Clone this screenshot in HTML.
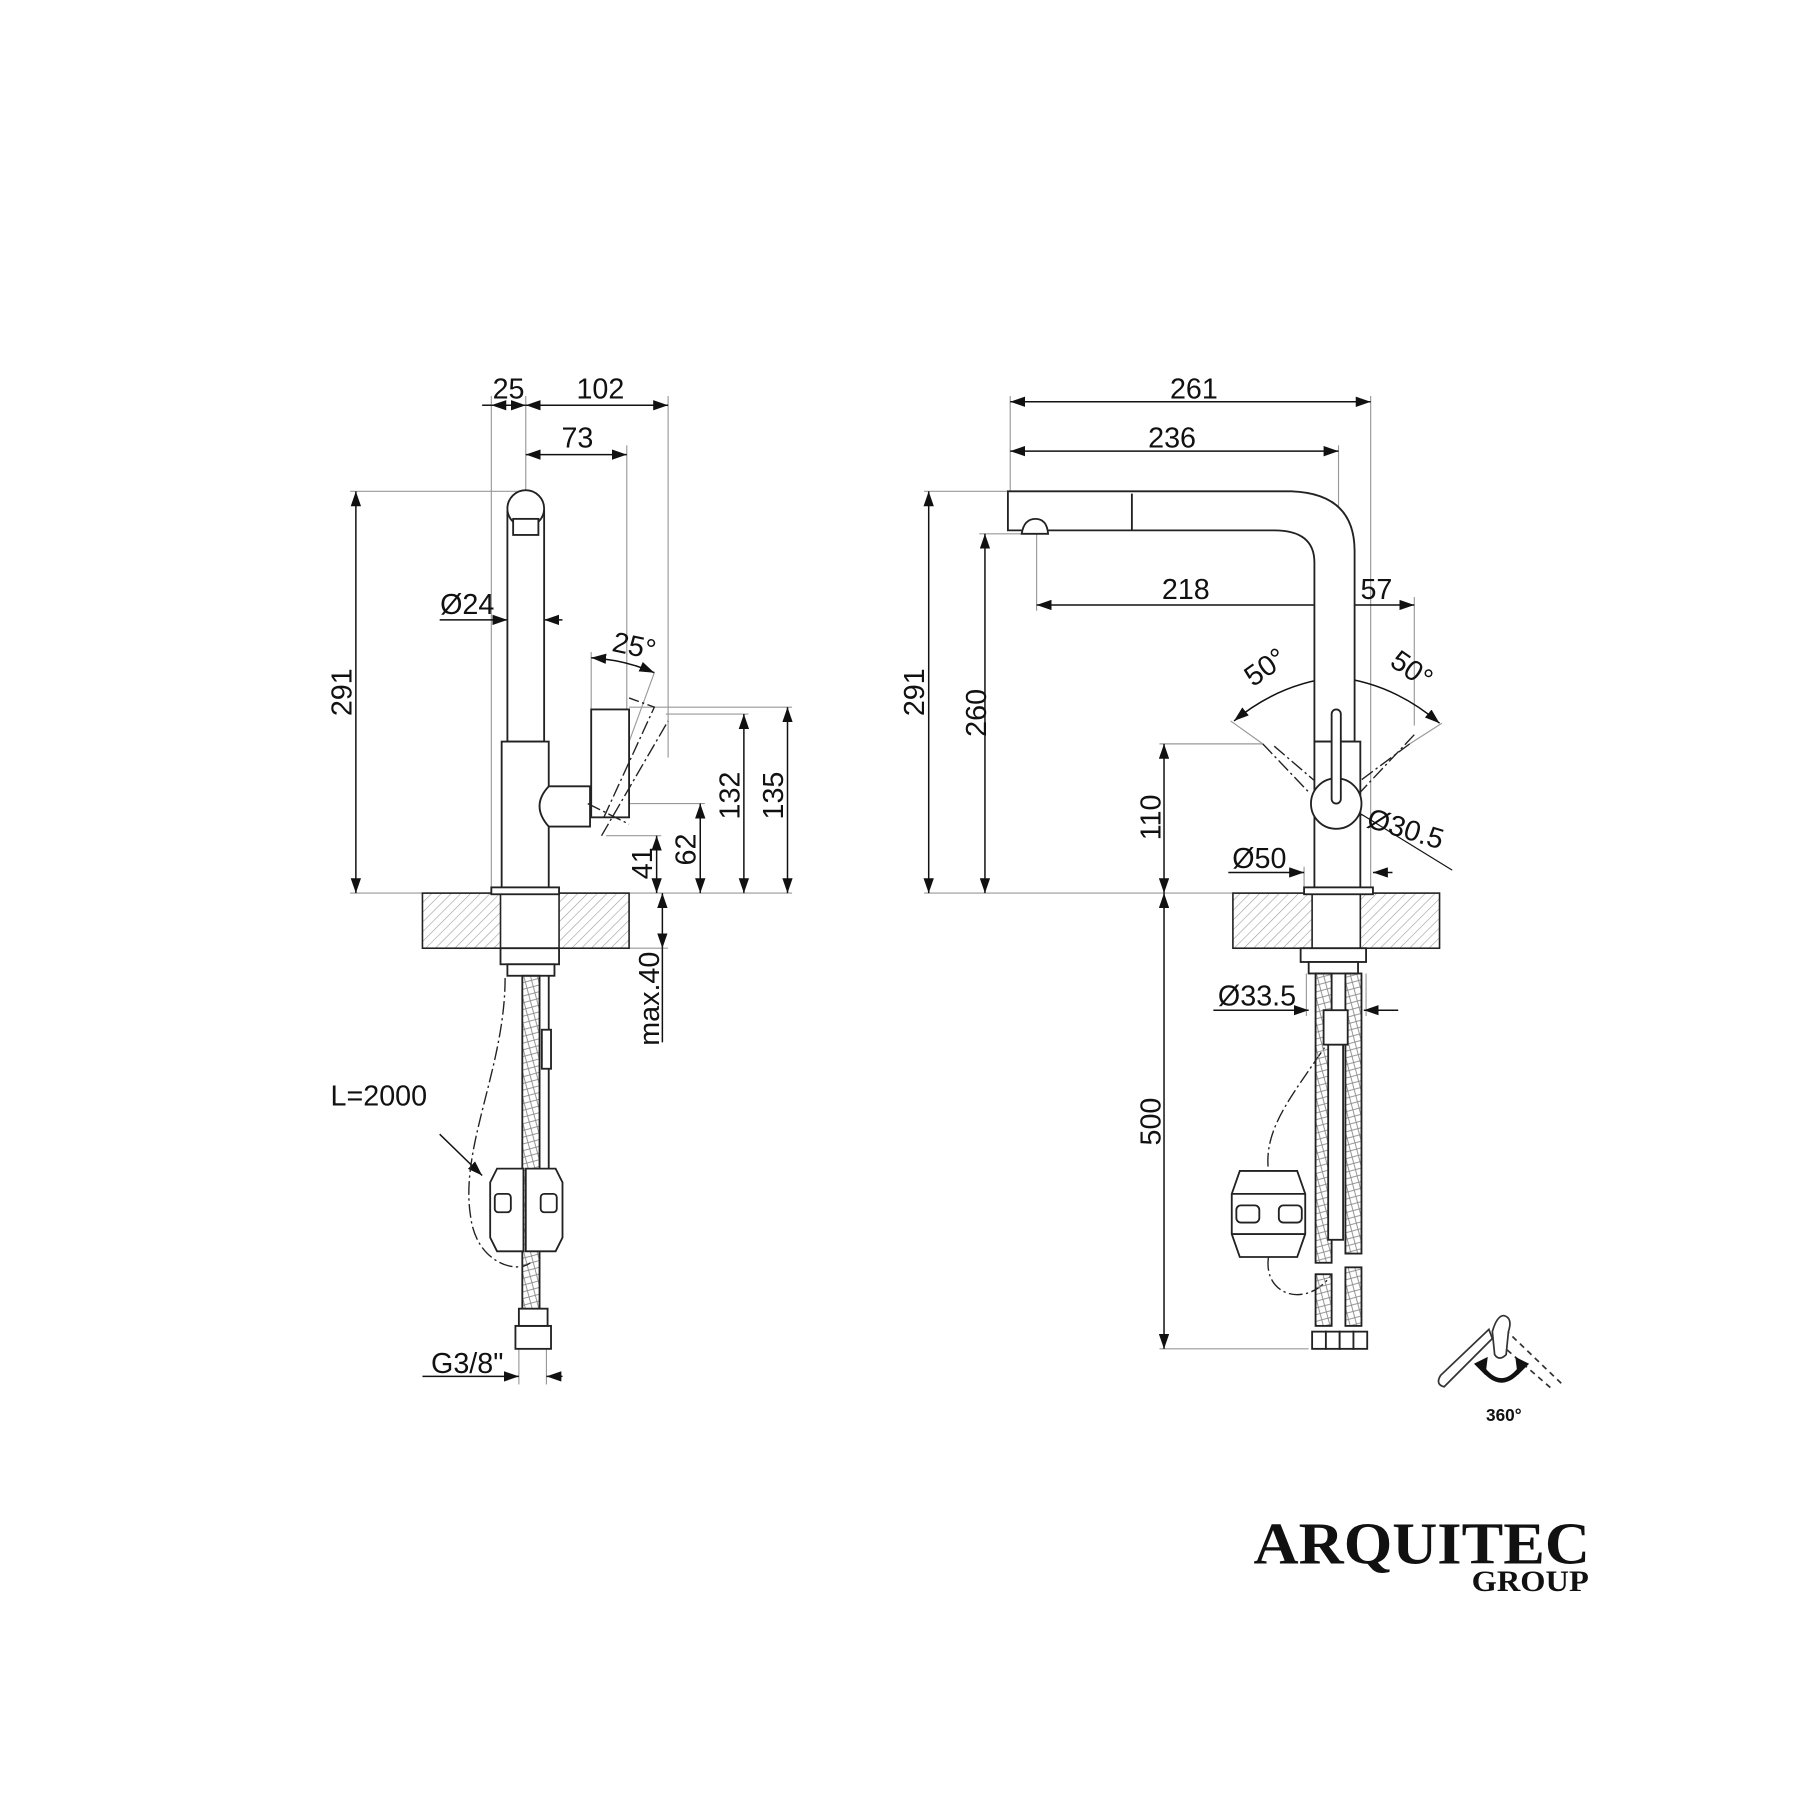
<!DOCTYPE html>
<html><head><meta charset="utf-8"><style>
html,body{margin:0;padding:0;background:#fff;}
svg{display:block;}
text{font-family:"Liberation Sans",sans-serif;fill:#111;}
</style></head><body>
<svg width="1800" height="1800" viewBox="0 0 1568 1568" xmlns="http://www.w3.org/2000/svg">
<defs>
<marker id="a" viewBox="0 0 13 9" refX="13" refY="4.5" markerWidth="13" markerHeight="9" markerUnits="userSpaceOnUse" orient="auto-start-reverse"><path d="M0,0L13,4.5L0,9z" fill="#111"/></marker>
<pattern id="h" width="6" height="6" patternUnits="userSpaceOnUse" patternTransform="rotate(45)"><line x1="0" y1="0" x2="0" y2="6" stroke="#999" stroke-width="1"/></pattern>
<pattern id="x" width="8" height="8" patternUnits="userSpaceOnUse" patternTransform="rotate(30)"><path d="M0,0L8,8M8,0L0,8" stroke="#888" stroke-width="0.8"/></pattern>
</defs>
<g fill="none" stroke="#999" stroke-width="1">
<line x1="428" y1="345" x2="428" y2="778"/>
<line x1="458" y1="345" x2="458" y2="428"/>
<line x1="546" y1="388" x2="546" y2="620"/>
<line x1="582" y1="345" x2="582" y2="660"/>
<line x1="305" y1="428" x2="458" y2="428"/>
<line x1="305" y1="778" x2="690" y2="778"/>
<line x1="548" y1="616" x2="690" y2="616"/>
<line x1="580" y1="622" x2="652" y2="622"/>
<line x1="548" y1="700" x2="614" y2="700"/>
<line x1="528" y1="728" x2="576" y2="728"/>
<line x1="548" y1="826" x2="582" y2="826"/>
<line x1="515" y1="568" x2="515" y2="618"/>
<line x1="570" y1="586" x2="532" y2="690"/>
<line x1="452" y1="1175" x2="452" y2="1206"/>
<line x1="476" y1="1175" x2="476" y2="1206"/>
<line x1="880" y1="345" x2="880" y2="428"/>
<line x1="1194" y1="345" x2="1194" y2="778"/>
<line x1="1166" y1="388" x2="1166" y2="620"/>
<line x1="805" y1="428" x2="878" y2="428"/>
<line x1="853" y1="465" x2="895" y2="465"/>
<line x1="903" y1="465" x2="903" y2="532"/>
<line x1="1232" y1="520" x2="1232" y2="632"/>
<line x1="1010" y1="648" x2="1100" y2="648"/>
<line x1="805" y1="778" x2="1212" y2="778"/>
<line x1="1010" y1="1175" x2="1140" y2="1175"/>
<line x1="1072" y1="628" x2="1100" y2="648"/>
<line x1="1256" y1="630" x2="1228" y2="648"/>
<line x1="1138" y1="848" x2="1138" y2="885"/>
<line x1="1190" y1="848" x2="1190" y2="885"/>
<line x1="1136" y1="755" x2="1136" y2="775"/>
</g>
<g stroke="#111" stroke-width="1.3" fill="none">
<line x1="420" y1="353" x2="428" y2="353"/>
<line x1="428" y1="353" x2="458" y2="353" marker-start="url(#a)" marker-end="url(#a)"/>
<line x1="458" y1="353" x2="582" y2="353" marker-start="url(#a)" marker-end="url(#a)"/>
<line x1="458" y1="396" x2="546" y2="396" marker-start="url(#a)" marker-end="url(#a)"/>
<line x1="310" y1="428" x2="310" y2="778" marker-start="url(#a)" marker-end="url(#a)"/>
<line x1="383" y1="540" x2="442" y2="540" marker-end="url(#a)"/>
<line x1="490" y1="540" x2="474" y2="540" marker-end="url(#a)"/>
<path d="M515,573 Q545,575 570,586" marker-start="url(#a)" marker-end="url(#a)"/>
<line x1="686" y1="616" x2="686" y2="778" marker-start="url(#a)" marker-end="url(#a)"/>
<line x1="648" y1="622" x2="648" y2="778" marker-start="url(#a)" marker-end="url(#a)"/>
<line x1="610" y1="700" x2="610" y2="778" marker-start="url(#a)" marker-end="url(#a)"/>
<line x1="572" y1="728" x2="572" y2="778" marker-start="url(#a)" marker-end="url(#a)"/>
<line x1="577" y1="778" x2="577" y2="826" marker-start="url(#a)" marker-end="url(#a)"/>
<line x1="577" y1="826" x2="577" y2="908"/>
<line x1="368" y1="1199" x2="452" y2="1199" marker-end="url(#a)"/>
<line x1="490" y1="1199" x2="476" y2="1199" marker-end="url(#a)"/>
<line x1="383" y1="988" x2="420" y2="1024" marker-end="url(#a)"/>
<line x1="880" y1="350" x2="1194" y2="350" marker-start="url(#a)" marker-end="url(#a)"/>
<line x1="880" y1="393" x2="1166" y2="393" marker-start="url(#a)" marker-end="url(#a)"/>
<line x1="809" y1="428" x2="809" y2="778" marker-start="url(#a)" marker-end="url(#a)"/>
<line x1="858" y1="465" x2="858" y2="778" marker-start="url(#a)" marker-end="url(#a)"/>
<line x1="903" y1="527" x2="1166" y2="527" marker-start="url(#a)" marker-end="url(#a)"/>
<line x1="1166" y1="527" x2="1232" y2="527" marker-start="url(#a)" marker-end="url(#a)"/>
<path d="M1075,628 Q1115,595 1164,590" marker-start="url(#a)" marker-end="url(#a)"/>
<path d="M1164,590 Q1213,595 1254,630" marker-start="url(#a)" marker-end="url(#a)"/>
<line x1="1014" y1="648" x2="1014" y2="778" marker-start="url(#a)" marker-end="url(#a)"/>
<line x1="1014" y1="778" x2="1014" y2="1175" marker-start="url(#a)" marker-end="url(#a)"/>
<line x1="1070" y1="760" x2="1136" y2="760" marker-end="url(#a)"/>
<line x1="1213" y1="760" x2="1196" y2="760" marker-end="url(#a)"/>
<line x1="1057" y1="880" x2="1140" y2="880" marker-end="url(#a)"/>
<line x1="1218" y1="880" x2="1188" y2="880" marker-end="url(#a)"/>
<line x1="1143" y1="692" x2="1187" y2="710" marker-start="url(#a)" marker-end="url(#a)"/>
<line x1="1187" y1="710" x2="1265" y2="758" stroke-width="1"/>
</g>
<g stroke="#222" stroke-width="1.4">
<rect x="368" y="778" width="180" height="48" fill="url(#h)"/>
<rect x="1074" y="778" width="180" height="48" fill="url(#h)"/>
<rect x="436" y="778" width="51" height="48" fill="#fff"/>
<rect x="1143" y="778" width="42" height="48" fill="#fff"/>
</g>
<g stroke="#222" stroke-width="1.6" fill="#fff">
<rect x="442" y="445" width="32" height="201"/>
<circle cx="458" cy="443" r="16"/>
<rect x="447" y="452" width="22" height="14"/>
<rect x="437" y="646" width="41" height="128"/>
<rect x="428" y="773" width="59" height="6"/>
<path d="M478,685 H514 V720 H478 Q462,702 478,685Z"/>
<rect x="515" y="618" width="33" height="94"/>
<rect x="436" y="826" width="51" height="14"/>
<rect x="442" y="840" width="41" height="10"/>
<rect x="455" y="850" width="15" height="320" fill="url(#x)"/>
<line x1="478" y1="850" x2="478" y2="1020"/>
<rect x="472" y="897" width="8" height="34"/>
<path d="M427,1030 L433,1018 H456 V1090 H433 L427,1078Z"/>
<path d="M490,1030 L484,1018 H458 V1090 H484 L490,1078Z"/>
<rect x="431" y="1040" width="14" height="16" rx="3"/>
<rect x="471" y="1040" width="14" height="16" rx="3"/>
<rect x="449" y="1155" width="31" height="20"/>
<rect x="452" y="1140" width="25" height="15"/>
</g>
<g stroke="#222" stroke-width="1.2" fill="none" stroke-dasharray="12,3,2,3">
<path d="M526,712 L570,616 L548,608"/>
<path d="M524,728 L582,628"/>
<path d="M512,700 L548,718"/>
<path d="M440,852 C440,930 400,1000 410,1060 C415,1100 450,1110 462,1100"/>
<path d="M1110,650 L1145,680"/><path d="M1100,648 L1140,690"/>
<path d="M1228,648 L1185,680"/><path d="M1232,640 L1185,690"/>
<path d="M1162,900 C1130,950 1100,980 1105,1020"/>
<path d="M1105,1095 C1100,1130 1140,1140 1160,1110"/>
</g>
<g stroke="#222" stroke-width="1.6" fill="#fff">
<path d="M878,428 H1125 Q1180,430 1180,480 V646 H1145 V490 Q1145,462 1110,462 H900 V462 H878Z"/>
<line x1="986" y1="430" x2="986" y2="462"/>
<path d="M890,465 Q892,452 902,452 Q912,452 913,465Z"/>
<rect x="1145" y="646" width="40" height="128"/>
<rect x="1136" y="773" width="60" height="6"/>
<circle cx="1164" cy="700" r="22"/>
<rect x="1160" y="618" width="8" height="82" rx="4"/>
<rect x="1133" y="826" width="57" height="12"/>
<rect x="1140" y="838" width="43" height="10"/>
<rect x="1146" y="848" width="14" height="252" fill="url(#x)"/>
<rect x="1172" y="848" width="14" height="244" fill="url(#x)"/>
<rect x="1146" y="1110" width="14" height="45" fill="url(#x)"/>
<rect x="1172" y="1104" width="14" height="51" fill="url(#x)"/>
<rect x="1157" y="910" width="13" height="170"/>
<rect x="1153" y="880" width="21" height="30"/>
<path d="M1073,1040 L1080,1020 H1130 L1137,1040 V1075 L1130,1095 H1080 L1073,1075Z"/>
<line x1="1073" y1="1040" x2="1137" y2="1040"/><line x1="1073" y1="1075" x2="1137" y2="1075"/>
<rect x="1077" y="1050" width="20" height="15" rx="4"/>
<rect x="1114" y="1050" width="20" height="15" rx="4"/>
<rect x="1143" y="1160" width="12" height="15"/><rect x="1155" y="1160" width="12" height="15"/>
<rect x="1167" y="1160" width="12" height="15"/><rect x="1179" y="1160" width="12" height="15"/>
</g>
<g stroke="#333" stroke-width="1.5" fill="#fff">
<path d="M1297,1158 L1255,1198 Q1250,1206 1258,1208 L1300,1166Z"/>
<path d="M1311,1158 L1360,1205 M1306,1170 L1352,1210" stroke-dasharray="5,4"/>
<path d="M1300,1160 Q1304,1146 1310,1146 Q1318,1148 1314,1160 L1312,1180 Q1306,1186 1302,1180Z" fill="#fff"/>
<path d="M1290,1190 Q1308,1215 1326,1190" fill="none" stroke="#111" stroke-width="4"/>
</g>
<path d="M1284,1188 L1296,1182 L1294,1198Z M1332,1188 L1320,1182 L1322,1198Z" fill="#111"/>
<text x="1310" y="1238" font-size="15" font-weight="bold" text-anchor="middle">360°</text>
<g font-size="25">
<text x="443" y="347" text-anchor="middle">25</text>
<text x="523" y="347" text-anchor="middle">102</text>
<text x="503" y="390" text-anchor="middle">73</text>
<text x="407" y="535" text-anchor="middle">Ø24</text>
<text x="552" y="571" text-anchor="middle" transform="rotate(12 552 565)">25°</text>
<text x="0" y="0" text-anchor="middle" transform="translate(306,603) rotate(-90)">291</text>
<text x="0" y="0" text-anchor="middle" transform="translate(644,693) rotate(-90)">132</text>
<text x="0" y="0" text-anchor="middle" transform="translate(682,693) rotate(-90)">135</text>
<text x="0" y="0" text-anchor="middle" transform="translate(606,740) rotate(-90)">62</text>
<text x="0" y="0" text-anchor="middle" transform="translate(568,752) rotate(-90)">41</text>
<text x="0" y="0" text-anchor="middle" transform="translate(574,870) rotate(-90)">max.40</text>
<text x="330" y="963" text-anchor="middle">L=2000</text>
<text x="407" y="1196" text-anchor="middle">G3/8"</text>
<text x="1040" y="347" text-anchor="middle">261</text>
<text x="1021" y="390" text-anchor="middle">236</text>
<text x="1033" y="522" text-anchor="middle">218</text>
<text x="1199" y="522" text-anchor="middle">57</text>
<text x="0" y="0" text-anchor="middle" transform="translate(805,603) rotate(-90)">291</text>
<text x="0" y="0" text-anchor="middle" transform="translate(859,621) rotate(-90)">260</text>
<text x="0" y="0" text-anchor="middle" transform="translate(1011,712) rotate(-90)">110</text>
<text x="0" y="0" text-anchor="middle" transform="translate(1011,977) rotate(-90)">500</text>
<text x="0" y="0" text-anchor="middle" transform="translate(1107,588) rotate(-35)">50°</text>
<text x="0" y="0" text-anchor="middle" transform="translate(1225,590) rotate(35)">50°</text>
<text x="0" y="0" text-anchor="middle" transform="translate(1222,730) rotate(17)">Ø30.5</text>
<text x="1097" y="756" text-anchor="middle">Ø50</text>
<text x="1095" y="876" text-anchor="middle">Ø33.5</text>
</g>
<text x="1092" y="1362" font-size="52" font-weight="bold" style="font-family:'Liberation Serif',serif" textLength="293" lengthAdjust="spacingAndGlyphs">ARQUITEC</text>
<text x="1282" y="1386" font-weight="bold" style="font-family:'Liberation Serif',serif" font-size="26" textLength="102" lengthAdjust="spacingAndGlyphs">GROUP</text>
</svg>
</body></html>
